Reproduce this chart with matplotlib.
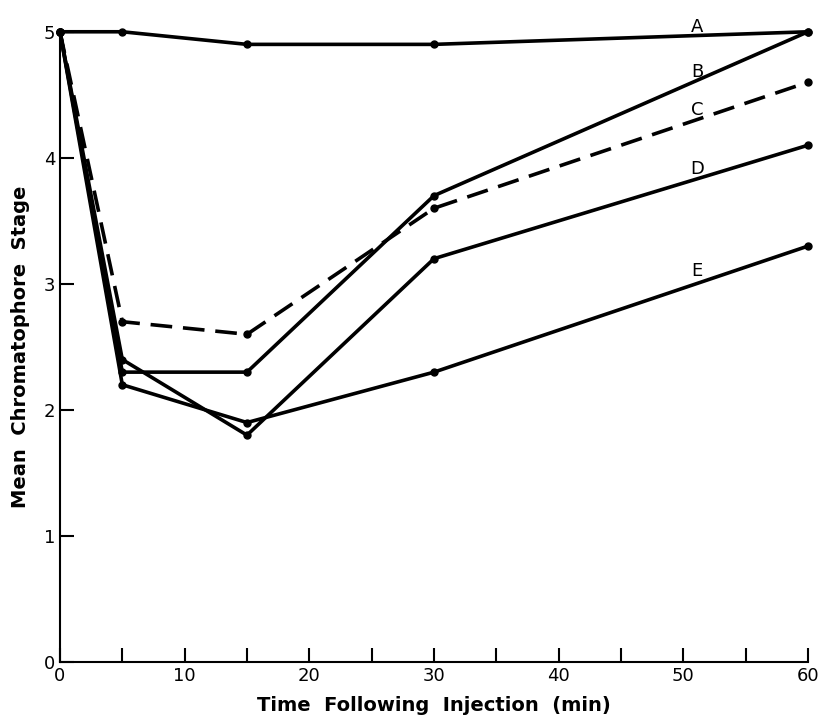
import numpy as np
import matplotlib.pyplot as plt

t = [0, 5, 15, 30, 60]
A = [5.0, 5.0, 4.9, 4.9, 5.0]
B = [5.0, 2.3, 2.3, 3.7, 5.0]
C = [5.0, 2.7, 2.6, 3.6, 4.6]
D = [5.0, 2.4, 1.8, 3.2, 4.1]
E = [5.0, 2.2, 1.9, 2.3, 3.3]
names = ['A', 'B', 'C', 'D', 'E']
label_y = [5.0, 4.64, 4.34, 3.87, 3.06]

fig = plt.figure(figsize=(8.33, 7.22), dpi=100)
ax = fig.add_axes([0.072, 0.083, 0.898, 0.873])

for s, n, ly in zip([A, B, C, D, E], names, label_y):
    ls = '--' if n == 'C' else '-'
    ax.plot(t, s, color='black', lw=2.6, ls=ls, dashes=(6, 3) if n == 'C' else (None, None),
            marker='o', ms=5, clip_on=False)
    ax.text(51.1, ly, n, fontsize=13, ha='center', va='baseline')

ax.set_xlim(0, 60)
ax.set_ylim(0, 5)
ax.spines['top'].set_visible(False)
ax.spines['right'].set_visible(False)
ax.spines['left'].set_linewidth(1.5)
ax.spines['bottom'].set_linewidth(1.5)
ax.set_xticks(np.arange(0, 61, 5))
ax.set_xticklabels([str(v) if v % 10 == 0 else '' for v in range(0, 61, 5)])
ax.set_yticks([0, 1, 2, 3, 4, 5])
ax.tick_params(direction='in', length=10, width=1.5, labelsize=13)
ax.set_xlabel('Time  Following  Injection  (min)', fontsize=14, fontweight='bold', labelpad=8)
ax.set_ylabel('Mean  Chromatophore  Stage', fontsize=14, fontweight='bold', labelpad=10)

fig.savefig('out.png', dpi=100)
